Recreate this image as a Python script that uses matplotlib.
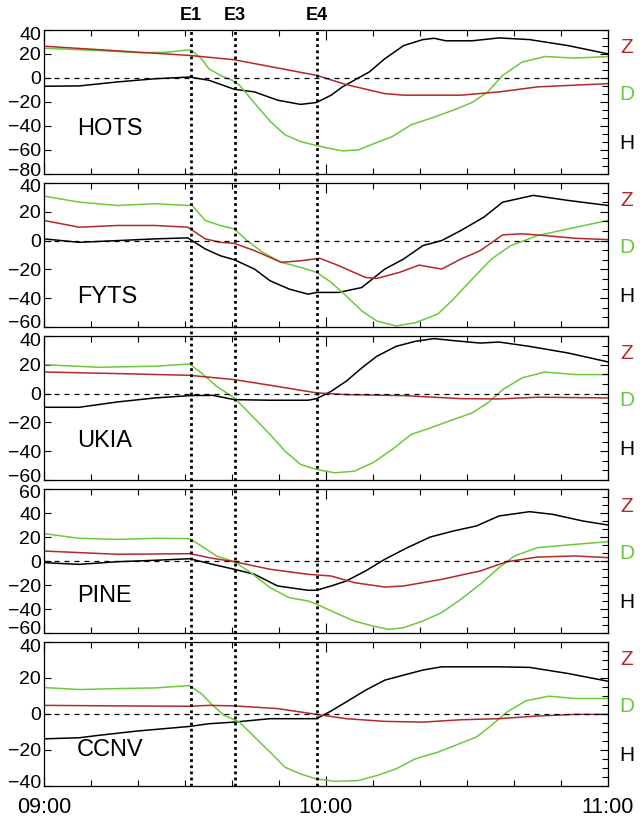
import numpy as np
import matplotlib
matplotlib.use("Agg")
import matplotlib.pyplot as plt
from matplotlib.ticker import MultipleLocator, FixedLocator, AutoMinorLocator
from matplotlib.transforms import ScaledTranslation

plt.rcParams['font.family'] = ['Liberation Sans', 'DejaVu Sans']

# minutes after 09:00, nT
stations = ["HOTS", "FYTS", "UKIA", "PINE", "CCNV"]
events = [("E1", 31.3), ("E3", 40.6), ("E4", 58.0)]

hots_z = [(0, 26.5), (31.0, 18.8), (40.5, 15.2), (58.0, 2.2), (64.3, -5.5), (72.5, -13.0),
          (76.5, -14.3), (88.7, -14.3), (96.8, -11.6), (105.0, -7.4), (120, -4.7)]
hots_d = [(0, 24.8), (11.5, 22.9), (20.5, 21.0), (26.2, 21.5), (30.6, 23.4), (31.4, 23.0),
          (33.5, 16.0), (35.1, 7.7), (37.5, 2.2), (40.0, -1.9), (41.6, -6.0), (44.8, -21.0),
          (48.1, -36.0), (51.3, -47.4), (54.6, -53.0), (58.0, -56.3), (61.1, -59.0),
          (63.5, -60.7), (66.8, -60.0), (70.0, -55.0), (74.1, -48.8), (78.1, -39.0),
          (82.2, -33.7), (87.1, -26.8), (91.1, -20.4), (94.4, -11.6), (97.6, 2.2),
          (101.7, 13.2), (106.6, 17.9), (113.1, 16.6), (120, 17.9)]
hots_h = [(0, -6.9), (7.5, -6.6), (15.6, -3.3), (23.7, -0.6), (31.0, 0.8), (35.1, -1.9),
          (40.5, -9.4), (44.8, -11.6), (49.7, -18.5), (54.6, -22.0), (58.0, -20.4),
          (61.1, -14.3), (63.5, -7.4), (66.0, -1.9), (69.2, 5.0), (72.5, 16.0), (76.5, 27.0),
          (80.6, 32.0), (83.0, 33.1), (85.5, 31.0), (91.1, 31.0), (96.8, 33.4), (103.3, 32.0),
          (111.5, 27.0), (120, 20.1)]

fyts_z = [(0, 14.0), (7.5, 9.3), (15.6, 10.5), (23.7, 10.5), (30.6, 9.3), (34.3, 1.2),
          (37.5, -1.2), (40.5, -1.9), (44.8, -7.0), (50.5, -15.1), (54.6, -14.0),
          (58.7, -12.3), (62.7, -17.4), (68.4, -25.6), (70.8, -26.3), (75.7, -22.0),
          (79.8, -17.0), (84.6, -19.8), (88.7, -12.8), (92.8, -7.0), (97.6, 4.0),
          (101.7, 4.7), (106.6, 3.5), (113.1, 1.6), (120, 0.7)]
fyts_d = [(0, 30.9), (7.5, 26.7), (15.6, 24.4), (23.7, 25.6), (30.6, 24.4), (31.4, 24.9),
          (34.3, 14.0), (37.5, 10.5), (40.5, 8.1), (43.2, 0.0), (46.5, -8.1), (50.5, -15.1),
          (54.6, -18.6), (58.0, -22.0), (61.1, -29.0), (64.3, -38.4), (67.6, -48.8),
          (70.8, -55.8), (74.9, -59.3), (79.0, -57.0), (83.8, -51.0), (87.1, -40.7),
          (91.1, -26.7), (95.2, -12.8), (99.3, -3.5), (105.0, 3.5), (111.5, 8.1), (120, 14.0)]
fyts_h = [(0, 1.2), (7.5, -1.2), (15.6, 0.0), (23.7, 1.2), (30.6, 1.9), (34.3, -5.8),
          (37.5, -10.5), (40.5, -13.3), (44.8, -19.8), (48.1, -27.9), (52.2, -33.7),
          (56.2, -37.2), (58.0, -36.0), (62.7, -36.0), (67.6, -32.6), (72.5, -19.8),
          (76.5, -12.8), (80.6, -3.5), (84.6, 0.0), (88.7, 7.0), (93.6, 16.3), (97.6, 26.7),
          (104.1, 31.4), (111.5, 27.9), (120, 24.4)]

ukia_z = [(0, 15.0), (15.6, 13.9), (31.0, 12.7), (40.5, 9.7), (48.1, 5.8), (58.0, 0.5),
          (64.3, -0.7), (76.5, -1.4), (88.7, -3.5), (96.8, -3.7), (105.0, -2.5), (120, -3.0)]
ukia_d = [(0, 20.1), (11.5, 18.3), (23.7, 19.0), (31.0, 20.6), (33.5, 14.3), (36.7, 5.1),
          (40.5, -3.0), (44.0, -14.6), (48.1, -28.4), (51.3, -40.0), (54.6, -49.2),
          (58.0, -52.7), (61.9, -55.0), (66.0, -53.9), (70.0, -48.0), (74.1, -38.8),
          (78.1, -28.4), (82.2, -23.8), (87.1, -18.0), (91.1, -13.4), (94.4, -6.5),
          (97.6, 2.8), (101.7, 10.9), (106.6, 15.0), (113.1, 13.2), (120, 13.2)]
ukia_h = [(0, -9.5), (7.5, -9.5), (15.6, -5.8), (23.7, -3.0), (31.0, -1.4), (35.9, -1.2),
          (40.5, -4.2), (48.1, -4.6), (56.2, -4.6), (58.0, -3.5), (61.1, 1.6), (64.3, 8.6),
          (67.6, 17.8), (70.8, 25.9), (74.9, 32.8), (79.0, 36.3), (83.0, 38.2), (87.1, 36.8),
          (92.8, 35.1), (96.8, 35.8), (103.3, 32.8), (111.5, 28.2), (120, 22.0)]

pine_z = [(0, 8.3), (15.6, 5.6), (31.0, 6.1), (35.9, 2.2), (40.5, -0.6), (48.1, -6.9),
          (56.2, -11.1), (61.1, -12.5), (66.0, -18.0), (72.5, -21.7), (76.5, -20.8),
          (84.6, -15.3), (92.8, -8.3), (98.5, -0.6), (105.0, 3.3), (113.1, 4.2), (120, 2.8)]
pine_d = [(0, 22.8), (7.5, 18.9), (15.6, 18.0), (23.7, 18.9), (31.0, 18.6), (33.5, 12.5),
          (36.7, 4.2), (40.5, -0.6), (44.0, -9.7), (48.1, -22.2), (52.2, -30.6),
          (56.2, -33.3), (58.0, -36.0), (61.9, -43.0), (66.0, -50.0), (70.0, -54.2),
          (73.3, -57.0), (76.5, -55.6), (80.6, -50.0), (84.6, -43.0), (88.7, -31.9),
          (92.8, -19.4), (96.8, -5.6), (100.1, 4.2), (105.0, 11.1), (113.1, 13.9), (120, 16.1)]
pine_h = [(0, -1.4), (7.5, -2.8), (15.6, -0.6), (23.7, 0.6), (31.0, 1.9), (35.9, -2.8),
          (40.5, -6.9), (44.8, -11.1), (49.7, -20.8), (56.2, -24.4), (58.0, -24.4),
          (61.1, -20.8), (64.3, -16.7), (68.4, -8.3), (72.5, 1.4), (77.3, 11.1), (82.2, 20.0),
          (87.1, 25.0), (92.0, 29.2), (96.8, 37.5), (103.3, 41.1), (108.2, 38.9),
          (114.7, 33.3), (120, 30.0)]

ccnv_z = [(0, 4.8), (15.6, 4.5), (31.0, 4.3), (35.1, 4.8), (40.5, 4.5), (49.7, 3.0),
          (58.0, -0.2), (64.3, -2.6), (72.5, -4.1), (80.6, -4.5), (88.7, -3.2), (96.8, -2.6),
          (105.0, -1.1), (113.1, -0.2), (120, -0.2)]
ccnv_d = [(0, 14.7), (7.5, 13.6), (15.6, 14.1), (23.7, 14.5), (31.0, 15.8), (33.5, 11.3),
          (35.9, 4.8), (38.3, -0.7), (41.6, -4.5), (44.8, -12.8), (48.1, -21.2),
          (51.3, -29.6), (54.6, -33.3), (58.0, -36.1), (61.9, -37.4), (66.8, -37.0),
          (70.8, -34.2), (74.9, -30.5), (79.0, -24.9), (83.8, -21.2), (88.7, -16.2),
          (92.0, -12.8), (95.2, -6.3), (98.5, 1.1), (102.5, 7.3), (107.4, 9.9),
          (113.1, 8.6), (120, 8.6)]
ccnv_h = [(0, -13.8), (7.5, -13.2), (11.5, -11.9), (19.7, -9.5), (31.0, -6.9), (35.1, -5.4),
          (40.5, -4.5), (48.1, -2.6), (58.0, -2.6), (61.1, 1.7), (64.3, 6.7), (68.4, 13.2),
          (72.5, 18.8), (76.5, 21.6), (80.6, 24.4), (84.6, 26.2), (92.8, 26.2), (96.8, 26.2),
          (103.3, 25.9), (111.5, 22.5), (120, 18.2)]

series = {
    "HOTS": (hots_z, hots_d, hots_h),
    "FYTS": (fyts_z, fyts_d, fyts_h),
    "UKIA": (ukia_z, ukia_d, ukia_h),
    "PINE": (pine_z, pine_d, pine_h),
    "CCNV": (ccnv_z, ccnv_d, ccnv_h),
}
ylims = {"HOTS": (-80, 40), "FYTS": (-60, 40), "UKIA": (-60, 40), "PINE": (-60, 60), "CCNV": (-40, 40)}
name_y = {"HOTS": 0.31, "FYTS": 0.21, "UKIA": 0.27, "PINE": 0.26, "CCNV": 0.25}
right_minor = {"HOTS": 3, "FYTS": 3, "UKIA": 3, "PINE": 3, "CCNV": 4}

RED = '#b3282b'
GREEN = '#6cc93c'

W, H = 640, 818
fig = plt.figure(figsize=(W / 100, H / 100), dpi=100)

left, right = 44, 608
tops = [30, 183, 336, 489, 642]
ph = 144

axes = []
for i, st in enumerate(stations):
    top = tops[i]
    ax = fig.add_axes([left / W, 1 - (top + ph) / H, (right - left) / W, ph / H])
    axes.append(ax)
    z, d, h = series[st]
    for pts, col in ((h, 'black'), (d, GREEN), (z, RED)):
        t, v = zip(*pts)
        ax.plot(t, v, color=col, lw=1.1)
    ax.axhline(0, color='black', lw=0.9, ls=(0, (4, 4)))
    ax.set_xlim(0, 120)
    lo, hi = ylims[st]
    ax.set_ylim(lo, hi)
    ax.set_yticks(list(range(lo, hi + 1, 20)))
    ax.tick_params(axis='y', which='major', direction='in', length=5, width=0.8,
                   labelsize=14, pad=2, right=False)
    # nudge the end labels a little into the panel
    ylabels = ax.get_yticklabels()
    ylabels[0].set_transform(ylabels[0].get_transform()
                             + ScaledTranslation(0, 5 / 100, fig.dpi_scale_trans))
    ylabels[-1].set_transform(ylabels[-1].get_transform()
                              + ScaledTranslation(0, -3 / 100, fig.dpi_scale_trans))
    for s in ax.spines.values():
        s.set_color('#555555')
        s.set_linewidth(0.9)

    # right spine ticks without labels
    twin = ax.twinx()
    twin.set_ylim(lo, hi)
    twin.yaxis.set_major_locator(MultipleLocator(20))
    twin.yaxis.set_minor_locator(AutoMinorLocator(right_minor[st]))
    twin.tick_params(axis='y', which='major', direction='in', length=6, width=0.8, labelright=False)
    twin.tick_params(axis='y', which='minor', direction='in', length=4, width=0.8)
    twin.set_xlim(0, 120)

    ax.xaxis.set_major_locator(FixedLocator([0, 60, 120]))
    ax.xaxis.set_minor_locator(MultipleLocator(10))
    ax.tick_params(axis='x', which='both', direction='in', top=True, width=0.8)
    ax.tick_params(axis='x', which='major', length=7)
    ax.tick_params(axis='x', which='minor', length=4)
    if i < len(stations) - 1:
        ax.tick_params(axis='x', labelbottom=False)
    else:
        ax.set_xticklabels(["09:00", "10:00", "11:00"])
        ax.tick_params(axis='x', labelsize=15.5, pad=8)

    ax.text(0.058, name_y[st], st, transform=ax.transAxes, fontsize=17, va='center', ha='left')
    for lab, col, fy in (("Z", RED, 0.88), ("D", GREEN, 0.55), ("H", 'black', 0.215)):
        ax.text(627 / W, 1 - (top + ph * (1 - fy)) / H, lab, transform=fig.transFigure,
                fontsize=15, color=col, ha='center', va='center')

# event markers through all panels
bottom_ax = axes[-1]
span = (tops[-1] + ph - tops[0]) / ph
for lab, t in events:
    bottom_ax.axvline(t, ymin=0, ymax=span, color='black', lw=2.0, ls=(0, (1, 1.2)),
                      clip_on=False, zorder=5)
    xf = (left + t / 120 * (right - left)) / W
    fig.text(xf, 1 - 15 / H, lab, fontsize=13, fontweight='bold', ha='center', va='center')

fig.savefig("out.png", dpi=100)
